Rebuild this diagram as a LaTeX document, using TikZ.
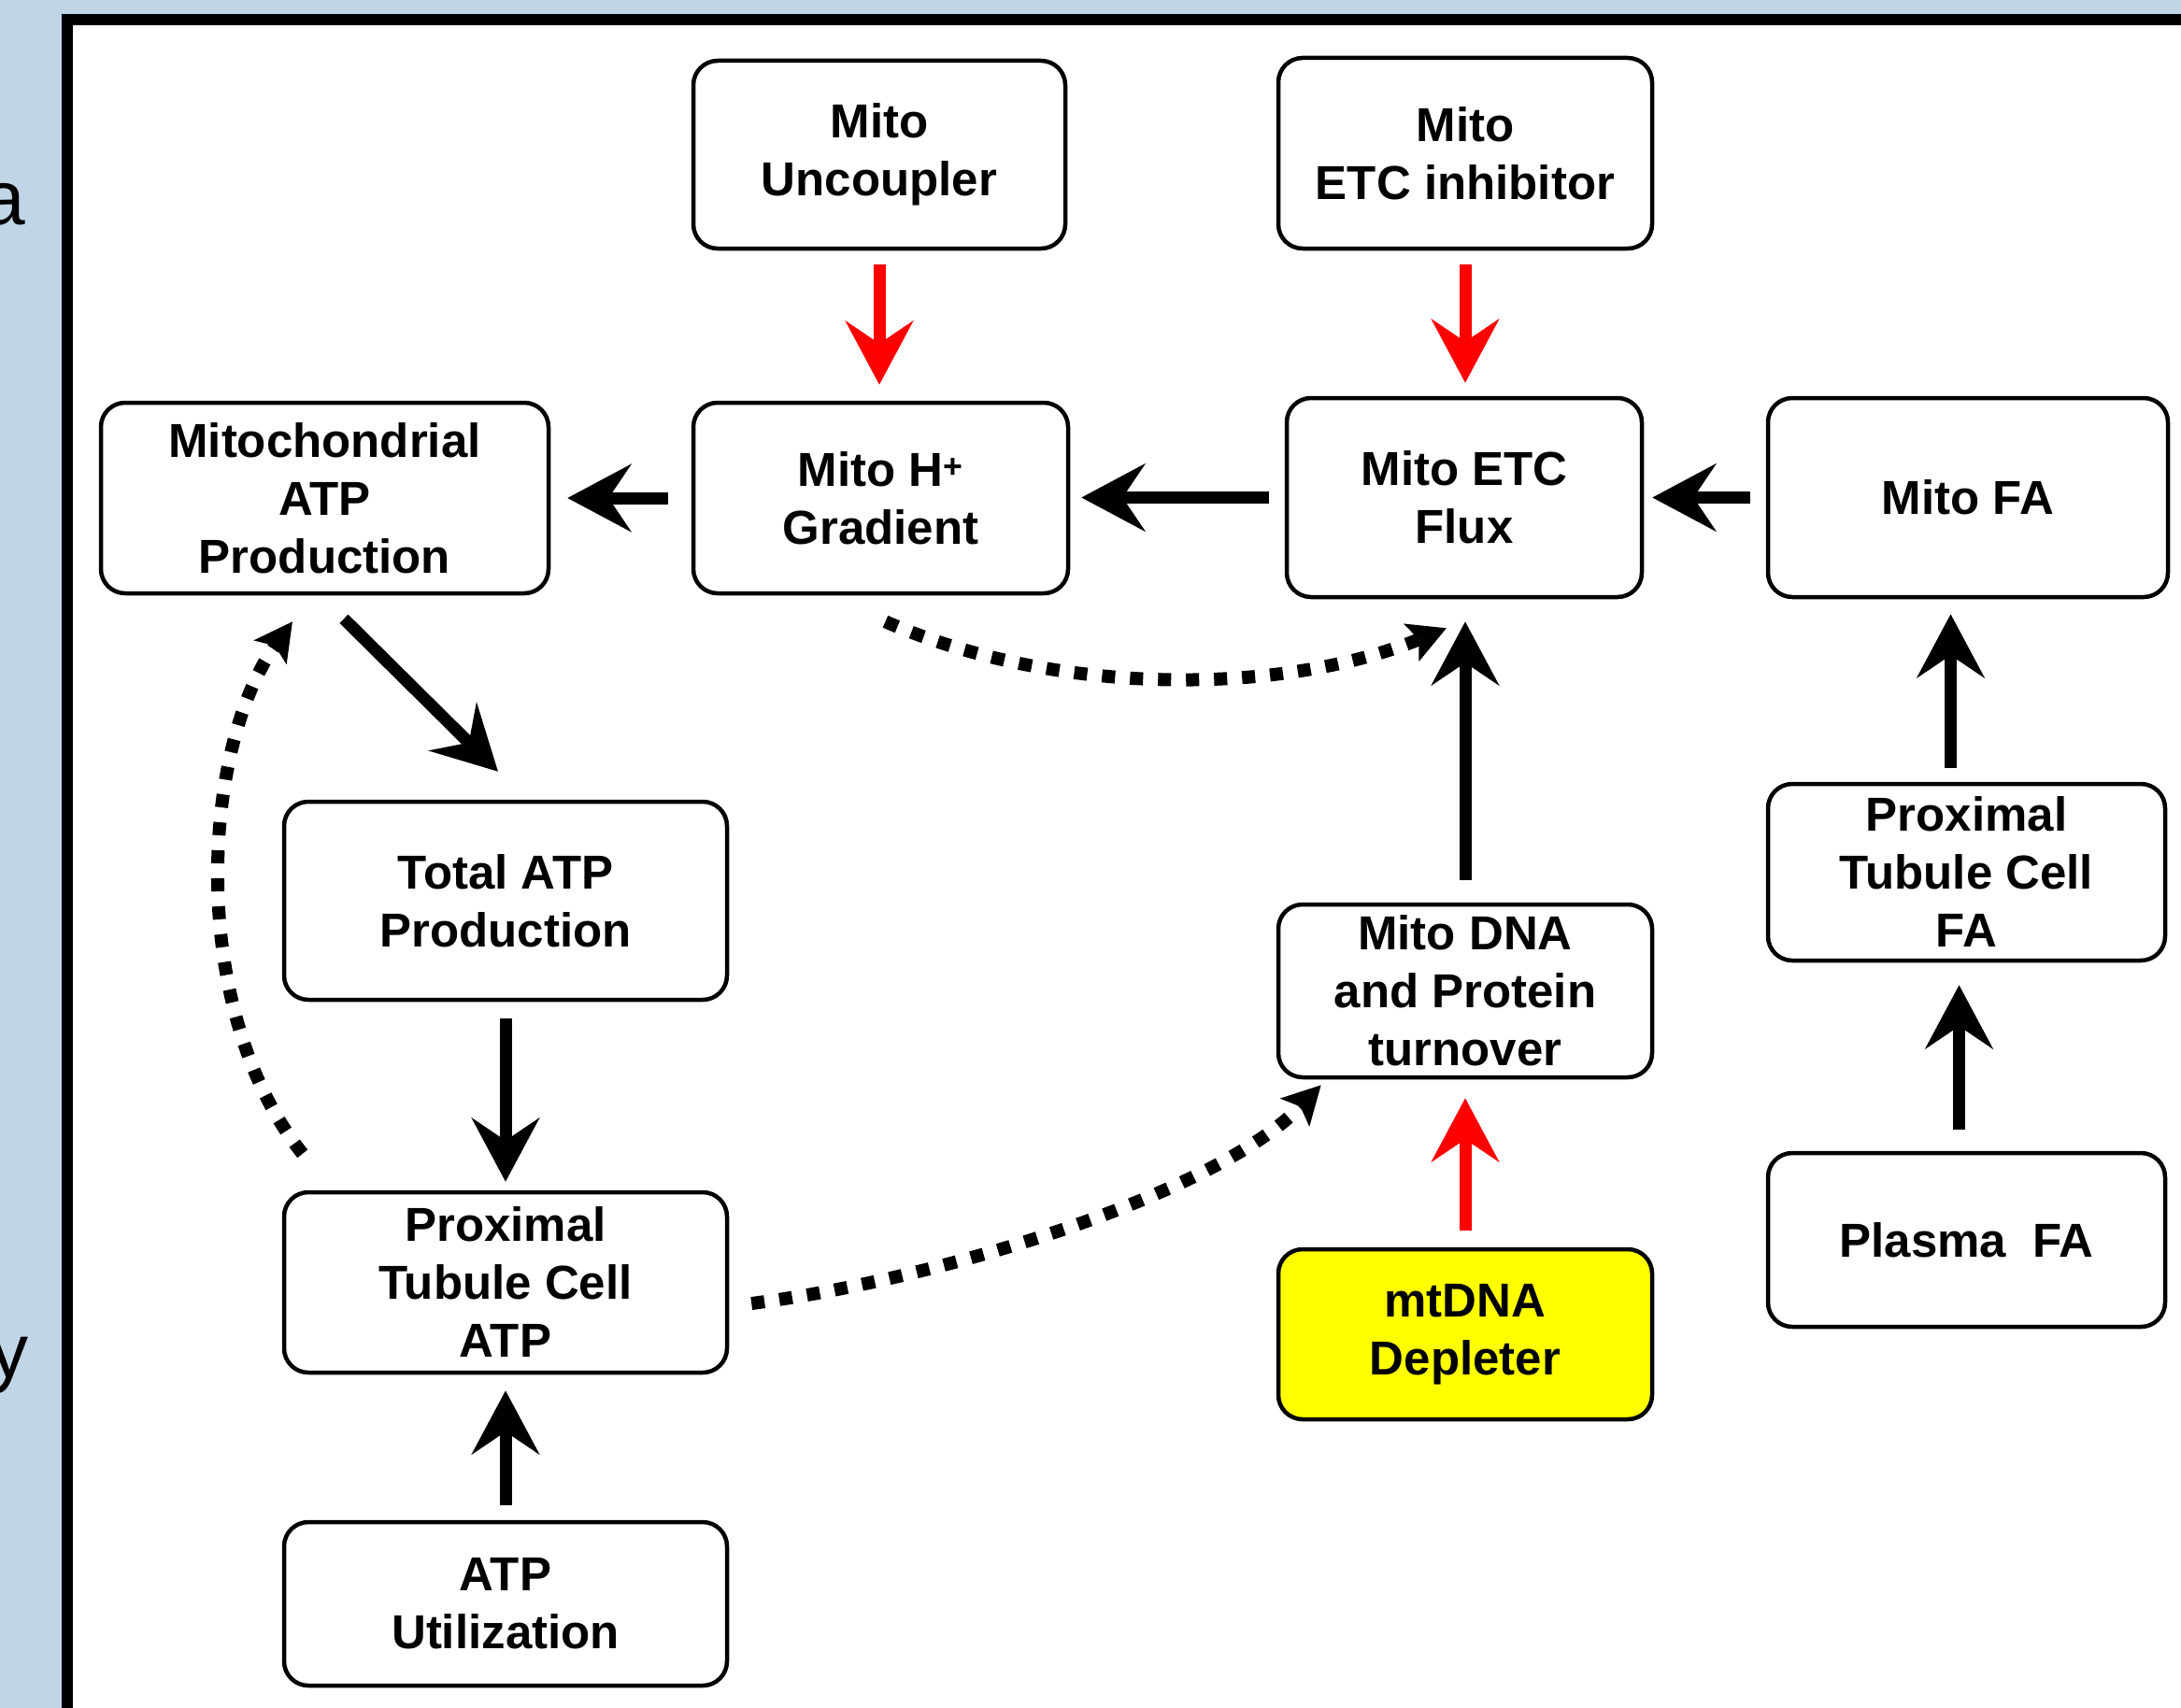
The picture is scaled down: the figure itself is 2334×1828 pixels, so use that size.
\documentclass[tikz,border=0pt]{standalone}
\usepackage{fontspec}
\setmainfont{Liberation Sans}
\usetikzlibrary{arrows.meta,calc}
\definecolor{bgblue}{HTML}{C0D5E6}
\definecolor{boxyellow}{HTML}{FFFF00}
\definecolor{arrred}{HTML}{FF0000}
\tikzset{
  box/.style={draw=black, line width=4.5pt, rounded corners=26pt, fill=white,
    align=center, inner sep=0pt,
    font=\bfseries\fontsize{51}{62}\selectfont},
  arr/.style={line width=13pt, draw=black,
    -{Stealth[length=68pt,width=72pt,inset=24pt]}},
  redarr/.style={arr, draw=arrred, color=arrred},
  dotarr/.style={line width=14pt, dash pattern=on 14pt off 16pt,
    -{Stealth[length=40pt,width=42pt,inset=8pt]}},
  sidetext/.style={inner sep=0pt, font=\fontsize{82}{90}\selectfont}
}
\begin{document}
\begin{tikzpicture}[x=1pt,y=-1pt]
\useasboundingbox (0,0) rectangle (2334,1828);
\begin{scope}
\clip (0,0) rectangle (2334,1828);
\fill[bgblue] (0,0) rectangle (2334,1828);
\node[sidetext, anchor=base east] (sa) at (27,240) {a};
\node[sidetext, anchor=base east] (sy) at (31,1474) {y};
\draw[line width=12pt, fill=white] (72,21) rectangle (2400,1900);

% boxes
\node[box, minimum width=398pt, minimum height=201pt] (unc) at (941,165.5) {Mito\\Uncoupler};
\node[box, minimum width=400pt, minimum height=204pt] (inh) at (1568,164) {Mito\\ETC inhibitor};
\node[box, minimum width=479pt, minimum height=204pt] (matp) at (347.5,533) {Mitochondrial\\ATP\\Production};
\node[box, minimum width=401pt, minimum height=204pt] (hgr) at (942.5,533) {Mito H\textsuperscript{+}\\Gradient};
\node[box, minimum width=380pt, minimum height=213pt] (etc) at (1567,532.5) {Mito ETC\\Flux};
\node[box, minimum width=428pt, minimum height=213pt] (mfa) at (2106,532.5) {Mito FA};
\node[box, minimum width=474pt, minimum height=212pt] (tatp) at (541,964) {Total ATP\\Production};
\node[box, minimum width=474pt, minimum height=193pt] (patp) at (541,1372.5) {Proximal\\Tubule Cell\\ATP};
\node[box, minimum width=474pt, minimum height=175pt] (util) at (541,1716.5) {ATP\\Utilization};
\node[box, minimum width=400pt, minimum height=185pt] (dna) at (1568,1060.5) {Mito DNA\\and Protein\\turnover};
\node[box, minimum width=400pt, minimum height=182pt, fill=boxyellow] (dep) at (1568,1428) {mtDNA\\Depleter};
\node[box, minimum width=425pt, minimum height=189pt] (pfa) at (2104.5,933.5) {Proximal\\Tubule Cell\\FA};
\node[box, minimum width=425pt, minimum height=186pt] (plasma) at (2104.5,1327) {Plasma~~FA};

% solid arrows
\draw[redarr, shorten <=15pt, shorten >=17pt] (unc.south) -- (unc.south |- hgr.north);
\draw[redarr, shorten <=15pt, shorten >=14pt] (inh.south) -- (inh.south |- etc.north);
\draw[arr, shorten <=25pt, shorten >=18pt] (hgr.west) -- (hgr.west -| matp.east);
\draw[arr, shorten <=17pt, shorten >=12pt] (etc.west) -- (etc.west -| hgr.east);
\draw[arr, shorten <=17pt, shorten >=9pt] (mfa.west) -- (mfa.west -| etc.east);
\draw[arr] ($(matp.south)+(20.5,25)$) -- ($(tatp.north)+(-8,-30)$);
\draw[arr, shorten <=18pt, shorten >=9pt] (tatp.south) -- (tatp.south |- patp.north);
\draw[arr, shorten <=16pt, shorten >=17pt] (util.north) -- (util.north |- patp.south);
\draw[arr, shorten <=24pt, shorten >=24pt] (dna.north) -- (dna.north |- etc.south);
\draw[redarr, shorten <=18pt, shorten >=20pt] (dep.north) -- (dep.north |- dna.south);
\draw[arr, shorten <=15pt, shorten >=16pt] ([xshift=-17pt]pfa.north) -- ([xshift=-17pt]pfa.north |- mfa.south);
\draw[arr, shorten <=23pt, shorten >=24pt] ([xshift=-8pt]plasma.north) -- ([xshift=-8pt]plasma.north |- pfa.south);

% dotted arrows
\draw[dotarr] ($(hgr.south)+(5,28)$) .. controls (1130,745) and (1370,745) .. ($(etc.south)+(-19,31)$);
\draw[dotarr] ($(patp.north west)+(22,-39)$) .. controls (200,1080) and (215,800) .. ($(matp.south)+(-34.5,28)$);
\draw[dotarr] ($(patp.east)+(24,22.5)$) .. controls (1000,1370) and (1300,1280) .. ($(dna.south west)+(48,6)$);
\end{scope}
\end{tikzpicture}
\end{document}
